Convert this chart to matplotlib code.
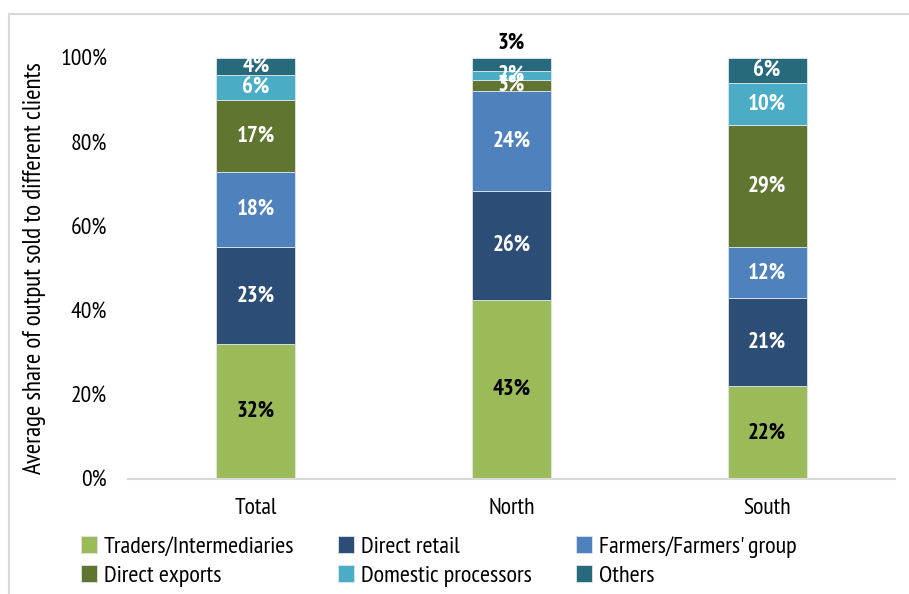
import numpy as np
import matplotlib.pyplot as plt
from matplotlib import font_manager
from matplotlib.patches import Rectangle

# shares of output sold per client type (percent)
regions = ["Total", "North", "South"]
clients = ["Traders/Intermediaries", "Direct retail", "Farmers/Farmers' group",
           "Direct exports", "Domestic processors", "Others"]
traders = [32, 42.6, 22]
retail = [23, 25.8, 21]
farmers = [18, 23.8, 12]
exports = [17, 2.6, 29]
processors = [6, 2.2, 10]
others = [4, 3.0, 6]
series = [traders, retail, farmers, exports, processors, others]
colors = ["#9BBB59", "#2C4D75", "#4F81BD", "#5F7530", "#4BACC6", "#276A7C"]
label_colors = ["black", "white", "white", "white", "white", "white"]


def as_weight(w):
    if isinstance(w, str):
        return font_manager.weight_dict.get(w, 400)
    return w


# narrow font with a real bold face, if one is installed
candidates = ["Liberation Sans Narrow", "Arial Narrow", "Archivo Narrow",
              "PT Sans Narrow", "Roboto Condensed", "Fira Sans Condensed",
              "IBM Plex Sans Condensed", "Encode Sans Condensed",
              "Barlow Semi Condensed", "Open Sans Condensed"]
family = "DejaVu Sans"
for fam in candidates:
    entries = [f for f in font_manager.fontManager.ttflist if f.name == fam]
    weights = {as_weight(f.weight) for f in entries}
    if entries and any(w >= 600 for w in weights) and any(w <= 450 for w in weights):
        family = fam
        break
plt.rcParams["font.family"] = [family, "DejaVu Sans"]

fig = plt.figure(figsize=(9.09, 5.94), dpi=100)
# outer border of the chart area
fig.patches.append(Rectangle((9 / 909, -0.05), 1.2, 1 - 14 / 594 + 0.05,
                             transform=fig.transFigure, fill=False,
                             edgecolor="#D9D9D9", linewidth=1.5))
ax = fig.add_axes([128 / 909, 1 - 479 / 594, 767 / 909, 421 / 594])

x = np.arange(len(regions))
bottom = np.zeros(len(regions))
bars = []
for vals, col, lc, name in zip(series, colors, label_colors, clients):
    vals = np.array(vals, dtype=float)
    b = ax.bar(x, vals, 0.31, bottom=bottom, color=col, edgecolor="#DDE6EE",
               linewidth=0.6, label=name)
    bars.append(b)
    for xi, v, b0 in zip(x, vals, bottom):
        if name == "Others" and v < 3.5:
            ax.text(xi, 100 + 1.0, f"{v:.0f}%", ha="center", va="bottom",
                    fontsize=16.5, fontweight="bold", color="black", clip_on=False)
        else:
            ax.text(xi, b0 + v / 2, f"{v:.0f}%", ha="center", va="center",
                    fontsize=16.5, fontweight="bold", color=lc)
    bottom += vals

ax.set_xlim(-0.5, 2.5)
ax.set_ylim(0, 100)
ax.set_yticks(np.arange(0, 101, 20))
ax.set_yticklabels([f"{t}%" for t in range(0, 101, 20)], fontsize=17)
ax.set_xticks(x)
ax.set_xticklabels(regions, fontsize=17)
ax.tick_params(length=0)
ax.tick_params(axis="y", pad=15)
ax.tick_params(axis="x", pad=14)
for s in ["top", "right", "left"]:
    ax.spines[s].set_visible(False)
ax.spines["bottom"].set_color("#D9D9D9")
ax.spines["bottom"].set_linewidth(1.5)
ax.set_ylabel("Average share of output sold to different clients", fontsize=18,
              labelpad=10)

# legend is filled row by row: reorder for matplotlib's column-major layout
order = [0, 3, 1, 4, 2, 5]
ax.legend([bars[i] for i in order], [clients[i] for i in order], ncol=3,
          loc="upper left", bbox_to_anchor=(-0.074, -0.113), frameon=False,
          fontsize=17.5, handlelength=0.65, handleheight=0.65,
          handletextpad=0.3, columnspacing=1.8, labelspacing=0.3,
          borderaxespad=0)

fig.savefig("out.png", dpi=100)
